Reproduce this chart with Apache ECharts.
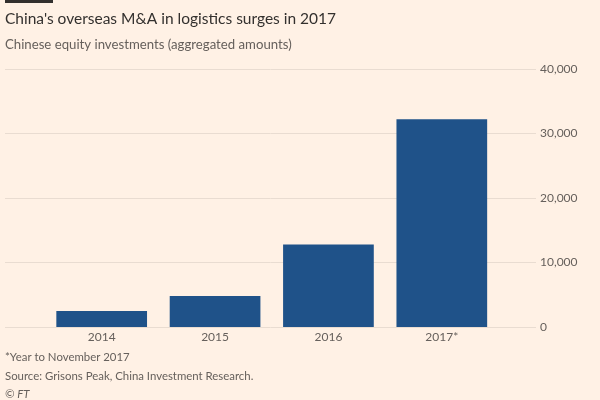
<!DOCTYPE html>
<html><head><meta charset="utf-8">
<script src="https://cdn.jsdelivr.net/npm/echarts@6/dist/echarts.min.js"></script>
<style>html,body{margin:0;padding:0;background:#fff1e5}#c{width:600px;height:400px}</style>
</head><body><div id="c"></div>
<script>
const categories = ['2014', '2015', '2016', '2017*'];
const values = [2500, 4800, 12800, 32200];
const yTicks = [0, 10000, 20000, 30000, 40000];

const chart = echarts.init(document.getElementById('c'), null, {renderer: 'canvas'});
const gTop = 69, gBottom = 400 - 327;
chart.setOption({
  backgroundColor: '#fff1e5',
  animation: false,
  textStyle: {fontFamily: 'Lato'},
  grid: [
    {left: 45, right: 600 - 498.5, top: gTop, bottom: gBottom},
    {left: 5, right: 600 - 536, top: gTop, bottom: gBottom}
  ],
  xAxis: [
    {type: 'category', gridIndex: 0, data: categories,
     axisLine: {show: false}, axisTick: {show: false},
     axisLabel: {color: '#66605c', fontSize: 12, margin: 4}},
    {type: 'value', gridIndex: 1, show: false}
  ],
  yAxis: [
    {type: 'value', gridIndex: 0, min: yTicks[0], max: yTicks[yTicks.length - 1], interval: 10000, show: false},
    {type: 'value', gridIndex: 1, position: 'right', min: yTicks[0], max: yTicks[yTicks.length - 1], interval: 10000,
     axisLine: {show: false}, axisTick: {show: false},
     splitLine: {lineStyle: {color: '#e9dcd1', width: 1}},
     axisLabel: {color: '#66605c', fontSize: 12, margin: 4, align: 'left',
       formatter: v => v.toLocaleString('en-US')}}
  ],
  series: [{
    type: 'bar', xAxisIndex: 0, yAxisIndex: 0, data: values,
    barCategoryGap: '20%', itemStyle: {color: '#1f5289'}
  }],
  graphic: [
    {type: 'rect', shape: {x: 5, y: 0, width: 48, height: 3}, style: {fill: '#33302e'}},
    {type: 'text', left: 5, top: 11, style: {text: "China's overseas M&A in logistics surges in 2017", fill: '#33302e', font: '15.5px Lato'}},
    {type: 'text', left: 5, top: 38, style: {text: 'Chinese equity investments (aggregated amounts)', fill: '#66605c', font: '13.2px Lato'}},
    {type: 'text', left: 5, top: 352, style: {text: '*Year to November 2017', fill: '#66605c', font: '11.4px Lato'}},
    {type: 'text', left: 5, top: 371, style: {text: 'Source: Grisons Peak, China Investment Research.', fill: '#66605c', font: '11.4px Lato'}},
    {type: 'text', left: 5, top: 389, style: {text: '© FT', fill: '#66605c', font: 'italic 11.4px Lato'}}
  ]
});
</script></body></html>
